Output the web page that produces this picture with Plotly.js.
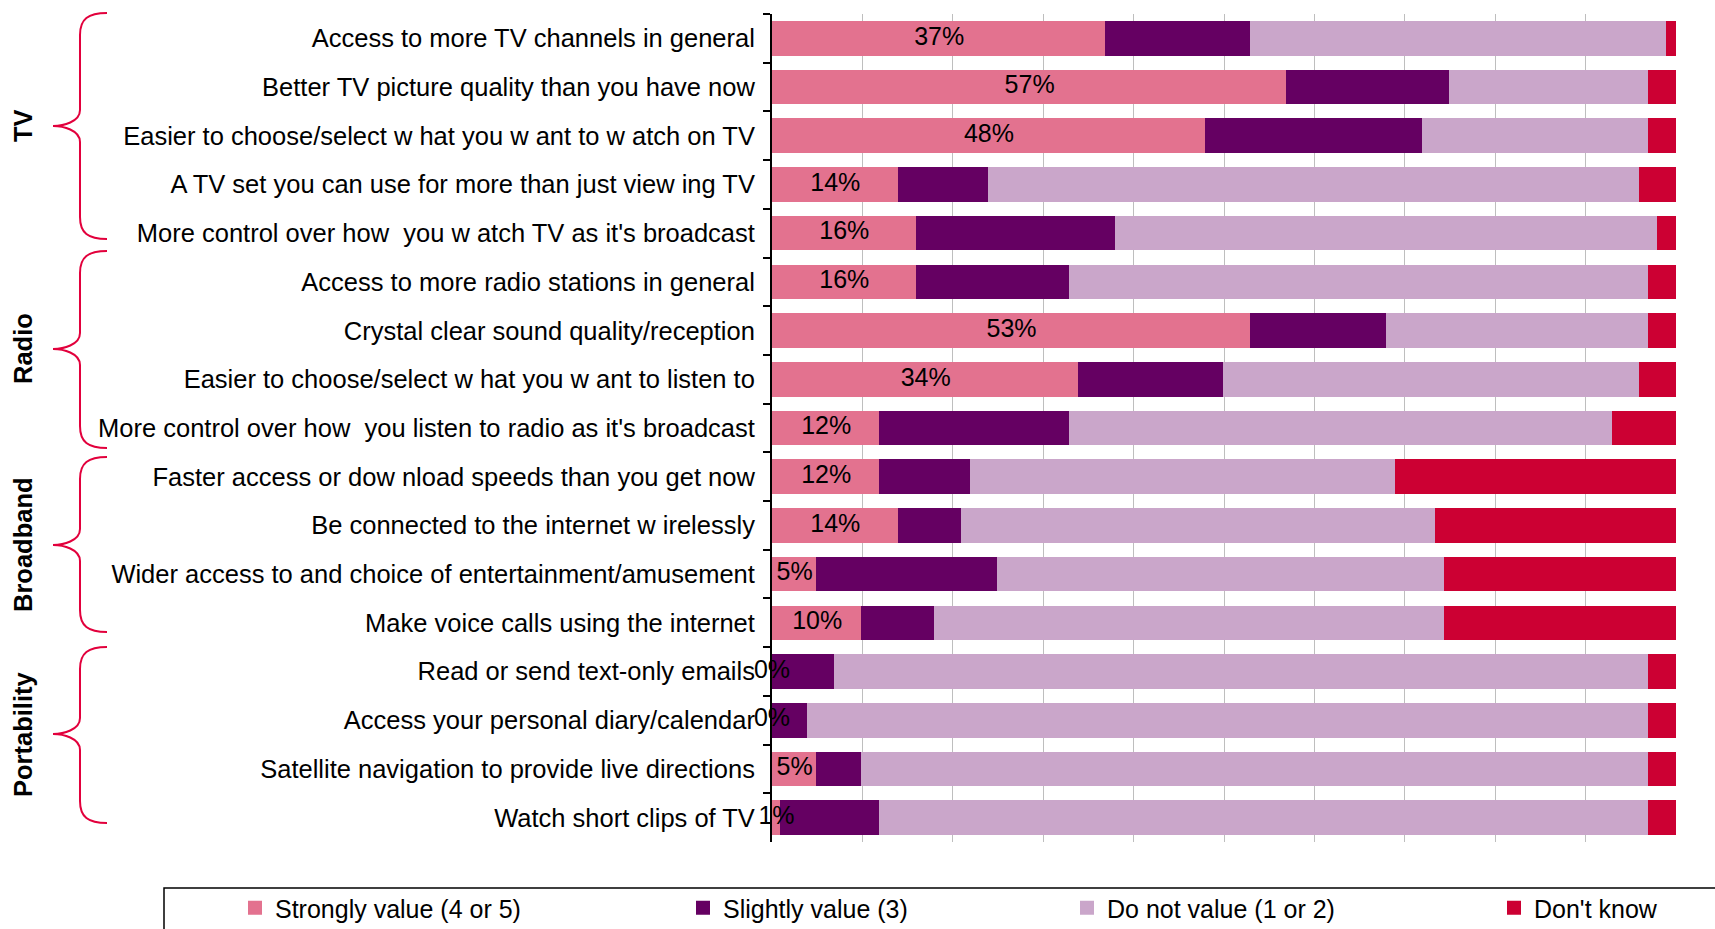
<!DOCTYPE html>
<html>
<head>
<meta charset="utf-8">
<script src="https://cdn.plot.ly/plotly-3.0.1.min.js"></script>
<style>
  html, body { margin: 0; padding: 0; background: #ffffff; }
  #chart { width: 1715px; height: 929px; }
</style>
</head>
<body>
<div id="chart"></div>
<script>
// ---------------- DATA ----------------
const categories = [
  "Access to more TV channels in general",
  "Better TV picture quality than you have now",
  "Easier to choose/select w hat you w ant to w atch on TV",
  "A TV set you can use for more than just view ing TV",
  "More control over how  you w atch TV as it's broadcast",
  "Access to more radio stations in general",
  "Crystal clear sound quality/reception",
  "Easier to choose/select w hat you w ant to listen to",
  "More control over how  you listen to radio as it's broadcast",
  "Faster access or dow nload speeds than you get now",
  "Be connected to the internet w irelessly",
  "Wider access to and choice of entertainment/amusement",
  "Make voice calls using the internet",
  "Read or send text-only emails",
  "Access your personal diary/calendar",
  "Satellite navigation to provide live directions",
  "Watch short clips of TV"
];
const strongly = [37, 57, 48, 14, 16, 16, 53, 34, 12, 12, 14, 5, 10, 0, 0, 5, 1];
const slightly = [16, 18, 24, 10, 22, 17, 15, 16, 21, 10, 7, 20, 8, 7, 4, 5, 11];
const notValue = [46, 22, 25, 72, 60, 64, 29, 46, 60, 47, 52.5, 49.5, 56.5, 90, 93, 87, 85];
const dontKnow = [1, 3, 3, 4, 2, 3, 3, 4, 7, 31, 26.5, 25.5, 25.5, 3, 3, 3, 3];
const seriesNames = ["Strongly value (4 or 5)", "Slightly value (3)", "Do not value (1 or 2)", "Don't know"];
const groupNames = ["TV", "Radio", "Broadband", "Portability"];
const strongLabels = strongly.map(v => v + "%");

// ---------------- LAYOUT GEOMETRY ----------------
const W = 1715, H = 929;
const M = { l: 772, r: 39, t: 14, b: 87, autoexpand: false };
const PW = W - M.l - M.r, PH = H - M.t - M.b;
const px2x = px => (px - M.l) / PW;
const px2y = py => (H - M.b - py) / PH;

const colors = ["#E3728F", "#650062", "#CAA6CA", "#CC0033"];
const FONT = "Liberation Sans, Arial, Helvetica, sans-serif";
const braceColor = "#E2003C";

// brace extents (pixel positions of decoration: top, tip, bottom)
const braces = [
  [13, 126, 239],
  [251, 349, 448],
  [457, 545, 632],
  [647, 734, 823]
];

function bracePath(top, tip, bot) {
  const xe = 107, xv = 80, xt = 53;
  const P = (x, y) => px2x(x).toFixed(5) + "," + px2y(y).toFixed(5);
  return "M" + P(xe, top) +
    " C" + P(xv + 8, top) + " " + P(xv, top + 6) + " " + P(xv, top + 22) +
    " L" + P(xv, tip - 16) +
    " C" + P(xv, tip - 4) + " " + P(xt + 10, tip) + " " + P(xt, tip) +
    " C" + P(xt + 10, tip) + " " + P(xv, tip + 4) + " " + P(xv, tip + 16) +
    " L" + P(xv, bot - 22) +
    " C" + P(xv, bot - 6) + " " + P(xv + 8, bot) + " " + P(xe, bot);
}

const shapes = braces.map(b => ({
  type: "path", xref: "paper", yref: "paper", path: bracePath(b[0], b[1], b[2]),
  line: { color: braceColor, width: 2 }
}));
// legend frame
shapes.push({
  type: "rect", xref: "paper", yref: "paper",
  x0: px2x(164), x1: px2x(1760), y0: px2y(888), y1: px2y(960),
  line: { color: "#000000", width: 1.5 }, fillcolor: "rgba(0,0,0,0)"
});

const annotations = groupNames.map((g, i) => ({
  xref: "paper", yref: "paper", x: px2x(23), y: px2y(braces[i][1]),
  text: "<b>" + g + "</b>", showarrow: false, textangle: -90,
  xanchor: "center", yanchor: "middle",
  font: { family: FONT, size: 25.5, color: "#000000" }
}));

// ---------------- TRACES ----------------
const seriesVals = [strongly, slightly, notValue, dontKnow];
const legendIds = ["legend", "legend2", "legend3", "legend4"];
const traces = seriesVals.map((vals, i) => ({
  type: "bar", orientation: "h", name: seriesNames[i],
  x: vals, y: categories, legend: legendIds[i],
  marker: { color: colors[i], line: { color: colors[i], width: 2 } },
  hoverinfo: "name+x"
}));
traces.push({
  type: "scatter", mode: "text", showlegend: false,
  x: strongly.map(v => v / 2), y: categories, text: strongLabels,
  textposition: "middle center", cliponaxis: false,
  textfont: { family: FONT, size: 25, color: "#000000" },
  hoverinfo: "skip"
});

const legendBase = {
  orientation: "h", xanchor: "left", yanchor: "middle", y: px2y(908),
  bgcolor: "rgba(0,0,0,0)", borderwidth: 0,
  font: { family: FONT, size: 25, color: "#000000" }
};
const legendX = [235, 683, 1067, 1494];

const layout = {
  width: W, height: H,
  margin: M,
  paper_bgcolor: "#ffffff", plot_bgcolor: "#ffffff",
  barmode: "stack", bargap: 0.33,
  font: { family: FONT, size: 25, color: "#000000" },
  xaxis: {
    range: [0, 100], dtick: 10, tick0: 0, showgrid: true, gridcolor: "#BEBEBE", gridwidth: 1,
    showticklabels: false, zeroline: false, showline: false, ticks: "", fixedrange: true
  },
  yaxis: {
    type: "category", range: [categories.length - 0.5, -0.5], autorange: false,
    tickson: "boundaries",
    ticks: "outside", ticklen: 7, tickwidth: 2, tickcolor: "#000000",
    showline: true, linecolor: "#000000", linewidth: 2, showgrid: false,
    ticklabelstandoff: 10,
    tickfont: { family: FONT, size: 25.5, color: "#000000" }, fixedrange: true
  },
  shapes: shapes,
  annotations: annotations,
  showlegend: true
};
legendIds.forEach((id, i) => {
  layout[id] = Object.assign({}, legendBase, { x: px2x(legendX[i]) });
});

Plotly.newPlot("chart", traces, layout, { displayModeBar: false, responsive: false });
</script>
</body>
</html>
